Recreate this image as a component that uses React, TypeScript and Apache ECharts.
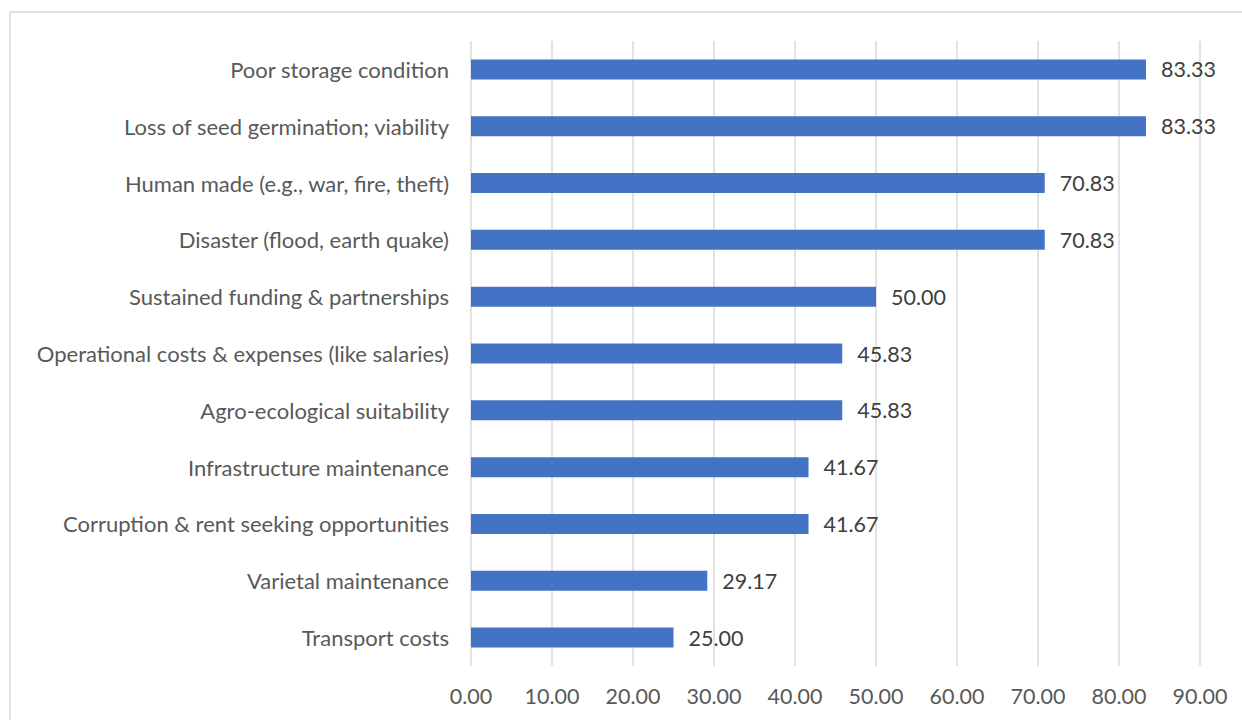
import React, { useEffect, useRef } from "react";
import * as echarts from "echarts";

const categories = [
  "Transport costs",
  "Varietal maintenance",
  "Corruption & rent seeking opportunities",
  "Infrastructure maintenance",
  "Agro-ecological suitability",
  "Operational costs & expenses (like salaries)",
  "Sustained funding & partnerships",
  "Disaster (flood, earth quake)",
  "Human made (e.g., war, fire, theft)",
  "Loss of seed germination; viability",
  "Poor storage condition",
];
const values = [25.0, 29.17, 41.67, 41.67, 45.83, 45.83, 50.0, 70.83, 70.83, 83.33, 83.33];
const axisMin = 0;
const axisMax = 90;
const axisStep = 10;

const FONT = "Lato, 'Open Sans', sans-serif";
const TEXT = "#595959";

export default function App() {
  const ref = useRef<HTMLDivElement>(null);
  useEffect(() => {
    if (!ref.current) return;
    const chart = echarts.init(ref.current, undefined, { renderer: "svg" });
    chart.setOption({
      animation: false,
      backgroundColor: "#ffffff",
      graphic: [
        {
          type: "rect",
          shape: { x: 10, y: 12, width: 1400, height: 900 },
          style: { fill: "none", stroke: "#d9d9d9", lineWidth: 1.5 },
          silent: true,
        },
      ],
      grid: { left: 471, right: 42, top: 41, bottom: 54 },
      xAxis: {
        type: "value",
        min: axisMin,
        max: axisMax,
        interval: axisStep,
        axisLine: { show: false },
        axisTick: { show: false },
        splitLine: { show: true, lineStyle: { color: "#d9d9d9", width: 1.5 } },
        axisLabel: {
          color: TEXT,
          fontFamily: FONT,
          fontSize: 21.5,
          margin: 19,
          formatter: (v: number) => v.toFixed(2),
        },
      },
      yAxis: {
        type: "category",
        data: categories,
        axisLine: { show: false },
        axisTick: { show: false },
        axisLabel: {
          color: TEXT,
          fontFamily: FONT,
          fontSize: 22,
          margin: 22,
        },
      },
      series: [
        {
          type: "bar",
          data: values,
          barWidth: 20,
          itemStyle: { color: "#4472C4" },
          label: {
            show: true,
            position: "right",
            distance: 15,
            color: "#404040",
            fontFamily: FONT,
            fontSize: 21.5,
            formatter: (p: any) => Number(p.value).toFixed(2),
          },
        },
      ],
    });
    return () => chart.dispose();
  }, []);
  return (
    <div
      ref={ref}
      style={{ position: "fixed", left: 0, top: 0, width: 1242, height: 720 }}
    />
  );
}
